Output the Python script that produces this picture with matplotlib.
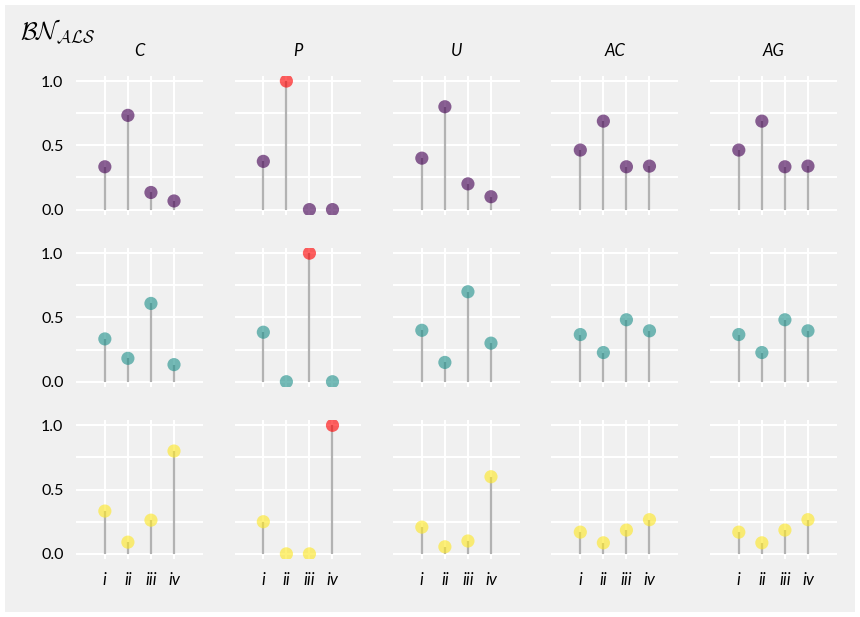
import matplotlib
matplotlib.use("Agg")
import matplotlib.pyplot as plt
import matplotlib.patches as mpatches
import numpy as np


plt.rcParams["font.family"] = ["Lato", "DejaVu Sans"]
plt.rcParams["mathtext.fontset"] = "cm"

models = ["C", "P", "U", "AC", "AG"]
items = ["i", "ii", "iii", "iv"]

# scores per model (one list of four items each), one block per row
top_scores = [
    [0.333, 0.733, 0.133, 0.067],
    [0.375, 1.0, 0.0, 0.0],
    [0.4, 0.8, 0.2, 0.1],
    [0.463, 0.688, 0.333, 0.338],
    [0.463, 0.688, 0.333, 0.338],
]
middle_scores = [
    [0.333, 0.182, 0.609, 0.133],
    [0.385, 0.0, 1.0, 0.0],
    [0.4, 0.15, 0.7, 0.3],
    [0.367, 0.227, 0.482, 0.396],
    [0.367, 0.227, 0.482, 0.396],
]
bottom_scores = [
    [0.333, 0.091, 0.262, 0.8],
    [0.25, 0.0, 0.0, 1.0],
    [0.208, 0.055, 0.1, 0.6],
    [0.169, 0.086, 0.185, 0.266],
    [0.169, 0.086, 0.185, 0.266],
]

rows = [top_scores, middle_scores, bottom_scores]
row_colours = [plt.cm.viridis(0.0), plt.cm.viridis(0.5), plt.cm.viridis(1.0)]
best_colour = "red"
background = "#f0f0f0"


figure, axes = plt.subplots(3, 5, figsize=(8.6, 6.17), dpi=100)
figure.patch.set_facecolor("white")
figure.patches.append(mpatches.Rectangle(
    (5 / 860, 5 / 617), 850 / 860, 607 / 617,
    transform=figure.transFigure, facecolor=background, edgecolor="none",
    zorder=-10))
figure.subplots_adjust(left=0.0884, right=0.973, top=0.877, bottom=0.094,
    wspace=0.25, hspace=0.24)

x = np.arange(len(items))

for r, scores in enumerate(rows):
    for c, model in enumerate(models):
        ax = axes[r, c]
        values = np.array(scores[c])
        colours = [best_colour if v >= 1.0 else row_colours[r] for v in values]

        ax.set_facecolor(background)
        ax.vlines(x, 0, values, color="gray", alpha=0.6, lw=1.6, zorder=2)
        ax.scatter(x, values, s=90, c=colours, alpha=0.62, edgecolors="none",
            zorder=3)

        ax.set_xlim(-1.25, 4.25)
        ax.set_ylim(-0.04, 1.04)
        ax.set_xticks(x)
        ax.set_yticks([0.0, 0.5, 1.0])
        ax.set_yticks([0.25, 0.75], minor=True)
        ax.grid(True, which="both", color="white", lw=1.5, zorder=0)
        ax.set_axisbelow(True)
        for spine in ax.spines.values():
            spine.set_visible(False)
        ax.tick_params(which="both", length=0, labelsize=11.5, pad=9)

        if c == 0:
            ax.set_yticklabels(["0.0", "0.5", "1.0"])
        else:
            ax.set_yticklabels([])
        if r == 2:
            ax.set_xticklabels(items, style="italic", fontsize=12)
        else:
            ax.set_xticklabels([])
        if r == 0:
            ax.set_title(model, style="italic", fontsize=12, pad=14)

figure.text(20 / 860, 1 - 32 / 617, r"$\mathcal{BN}_{\mathcal{ALS}}$",
    fontsize=17.5, va="center", ha="left")

plt.savefig("out.png", dpi=100, facecolor=figure.get_facecolor())
plt.close()
